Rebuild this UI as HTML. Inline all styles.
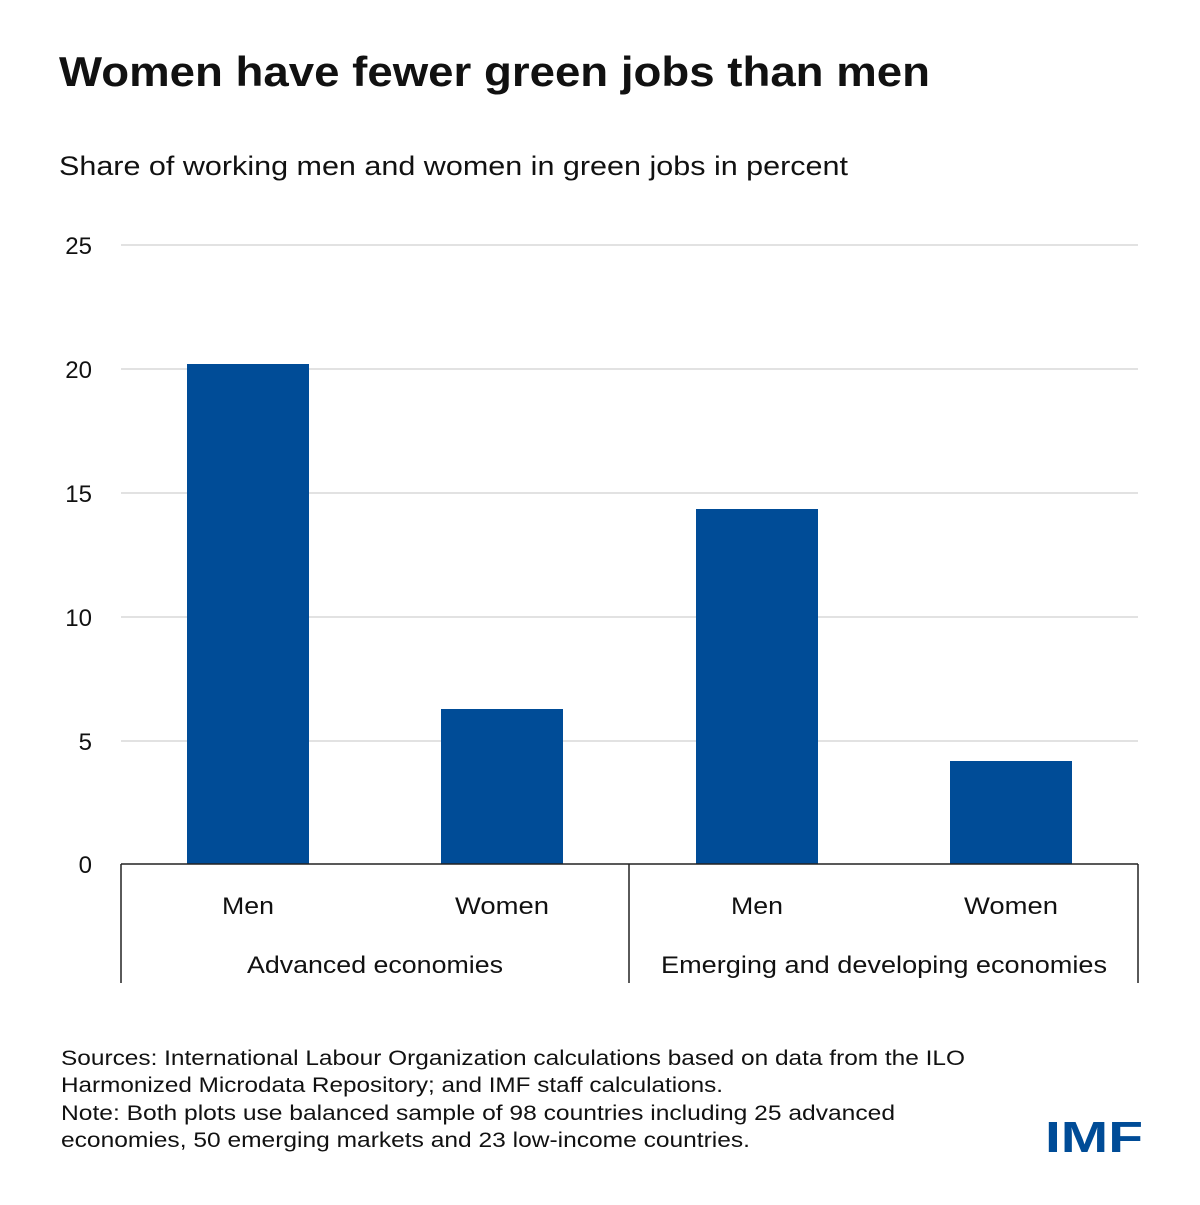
<!DOCTYPE html>
<html><head><meta charset="utf-8"><style>
body{margin:0;background:#fff;}
svg text{font-family:"Liberation Sans",sans-serif;fill:#111;}
</style></head><body>
<svg width="1200" height="1200" viewBox="0 0 1200 1200" xmlns="http://www.w3.org/2000/svg">
<text x="59" y="86" font-size="42" font-weight="bold" textLength="871" lengthAdjust="spacingAndGlyphs">Women have fewer green jobs than men</text>
<text x="59" y="175" font-size="27" textLength="789" lengthAdjust="spacingAndGlyphs">Share of working men and women in green jobs in percent</text>
<g stroke="#d9d9d9" stroke-width="1.5">
<line x1="121" x2="1138" y1="245" y2="245"/>
<line x1="121" x2="1138" y1="369" y2="369"/>
<line x1="121" x2="1138" y1="493" y2="493"/>
<line x1="121" x2="1138" y1="617" y2="617"/>
<line x1="121" x2="1138" y1="741" y2="741"/>
</g>
<g font-size="24" text-anchor="end">
<text x="92" y="254">25</text>
<text x="92" y="378">20</text>
<text x="92" y="502">15</text>
<text x="92" y="626">10</text>
<text x="92" y="750">5</text>
<text x="92" y="873">0</text>
</g>
<g fill="#004c97">
<rect x="187" y="364" width="122" height="500"/>
<rect x="441" y="709" width="122" height="155"/>
<rect x="696" y="509" width="122" height="355"/>
<rect x="950" y="761" width="122" height="103"/>
</g>
<g stroke="#222" stroke-width="1.5">
<line x1="121" x2="1138" y1="864" y2="864"/>
<line x1="121" x2="121" y1="864" y2="983"/>
<line x1="629" x2="629" y1="864" y2="983"/>
<line x1="1138" x2="1138" y1="864" y2="983"/>
</g>
<g font-size="24">
<text x="222" y="914" textLength="52" lengthAdjust="spacingAndGlyphs">Men</text>
<text x="455" y="914" textLength="94" lengthAdjust="spacingAndGlyphs">Women</text>
<text x="731" y="914" textLength="52" lengthAdjust="spacingAndGlyphs">Men</text>
<text x="964" y="914" textLength="94" lengthAdjust="spacingAndGlyphs">Women</text>
<text x="247" y="973" textLength="256" lengthAdjust="spacingAndGlyphs">Advanced economies</text>
<text x="661" y="973" textLength="446" lengthAdjust="spacingAndGlyphs">Emerging and developing economies</text>
</g>
<g font-size="21" fill="#222">
<text x="61" y="1065" textLength="904" lengthAdjust="spacingAndGlyphs">Sources: International Labour Organization calculations based on data from the ILO</text>
<text x="61" y="1092" textLength="662" lengthAdjust="spacingAndGlyphs">Harmonized Microdata Repository; and IMF staff calculations.</text>
<text x="61" y="1120" textLength="834" lengthAdjust="spacingAndGlyphs">Note: Both plots use balanced sample of 98 countries including 25 advanced</text>
<text x="61" y="1147" textLength="689" lengthAdjust="spacingAndGlyphs">economies, 50 emerging markets and 23 low-income countries.</text>
</g>
<text x="1045" y="1152" font-size="44" font-weight="bold" textLength="98" lengthAdjust="spacingAndGlyphs" style="fill:#004c97">IMF</text>
</svg>
</body></html>
